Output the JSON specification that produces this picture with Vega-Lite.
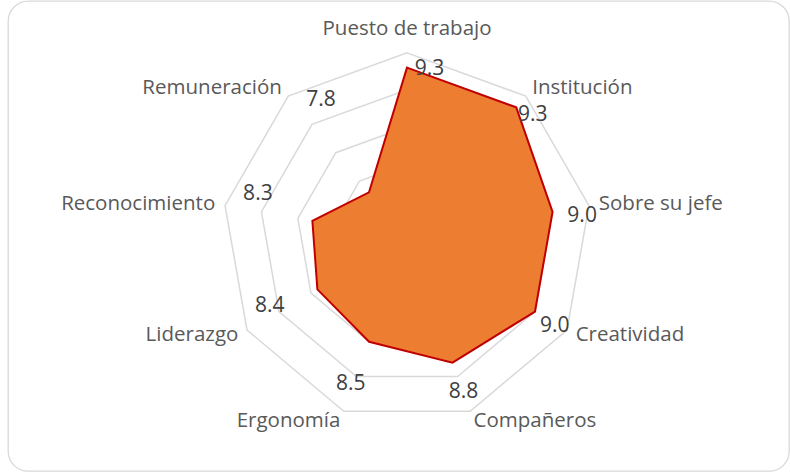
{
  "$schema": "https://vega.github.io/schema/vega-lite/v6.json",
  "width": 781,
  "height": 470,
  "autosize": {"type": "none"},
  "padding": {"left": 8, "top": 1, "right": 1, "bottom": 1},
  "background": "#FFFFFF",
  "config": {
    "view": {"stroke": "#D9D9D9", "strokeWidth": 1.3, "cornerRadius": 20},
    "font": "Open Sans"
  },
  "datasets": {
    "scores": [
      {"idx": 0, "categoria": "Puesto de trabajo", "valor": 9.3},
      {"idx": 1, "categoria": "Institución", "valor": 9.3},
      {"idx": 2, "categoria": "Sobre su jefe", "valor": 9.0},
      {"idx": 3, "categoria": "Creatividad", "valor": 9.0},
      {"idx": 4, "categoria": "Compañeros", "valor": 8.8},
      {"idx": 5, "categoria": "Ergonomía", "valor": 8.5},
      {"idx": 6, "categoria": "Liderazgo", "valor": 8.4},
      {"idx": 7, "categoria": "Reconocimiento", "valor": 8.3},
      {"idx": 8, "categoria": "Remuneración", "valor": 7.8}
    ],
    "rings": [
      {"nivel": 7.5, "idx": [0, 1, 2, 3, 4, 5, 6, 7, 8]},
      {"nivel": 8.0, "idx": [0, 1, 2, 3, 4, 5, 6, 7, 8]},
      {"nivel": 8.5, "idx": [0, 1, 2, 3, 4, 5, 6, 7, 8]},
      {"nivel": 9.0, "idx": [0, 1, 2, 3, 4, 5, 6, 7, 8]},
      {"nivel": 9.5, "idx": [0, 1, 2, 3, 4, 5, 6, 7, 8]}
    ]
  },
  "encoding": {
    "x": {"field": "x", "type": "quantitative", "scale": {"domain": [-5.399, 5.169], "nice": false, "zero": false}, "axis": null},
    "y": {"field": "y", "type": "quantitative", "scale": {"domain": [-3.158, 3.2016], "nice": false, "zero": false}, "axis": null}
  },
  "layer": [
    {
      "data": {"name": "rings"},
      "transform": [
        {"flatten": ["idx"]},
        {"calculate": "datum.idx * 2 * PI / 9", "as": "ang"},
        {"calculate": "(datum.nivel - 7) * sin(datum.ang)", "as": "x"},
        {"calculate": "(datum.nivel - 7) * cos(datum.ang)", "as": "y"}
      ],
      "mark": {"type": "line", "interpolate": "linear-closed", "stroke": "#D9D9D9", "strokeWidth": 1.5},
      "encoding": {
        "detail": {"field": "nivel", "type": "nominal"},
        "order": {"field": "idx", "type": "quantitative"}
      }
    },
    {
      "data": {"name": "scores"},
      "transform": [
        {"calculate": "datum.idx * 2 * PI / 9", "as": "ang"},
        {"calculate": "(datum.valor - 7) * sin(datum.ang)", "as": "x"},
        {"calculate": "(datum.valor - 7) * cos(datum.ang)", "as": "y"}
      ],
      "mark": {"type": "line", "interpolate": "linear-closed", "fill": "#ED7D31", "stroke": "#C00000", "strokeWidth": 2},
      "encoding": {
        "order": {"field": "idx", "type": "quantitative"}
      }
    },
    {
      "data": {"name": "scores"},
      "transform": [
        {"filter": "datum.idx == 0"},
        {"calculate": "0", "as": "x"},
        {"calculate": "2.5", "as": "y"}
      ],
      "mark": {"type": "text", "align": "center", "baseline": "alphabetic", "dy": -18, "fontSize": 20.5, "color": "#595959"},
      "encoding": {"text": {"field": "categoria", "type": "nominal"}}
    },
    {
      "data": {"name": "scores"},
      "transform": [
        {"filter": "datum.idx >= 1 && datum.idx <= 4"},
        {"calculate": "datum.idx * 2 * PI / 9", "as": "ang"},
        {"calculate": "2.635 * sin(datum.ang)", "as": "x"},
        {"calculate": "2.635 * cos(datum.ang)", "as": "y"}
      ],
      "mark": {"type": "text", "align": "left", "baseline": "middle", "fontSize": 20.5, "color": "#595959"},
      "encoding": {"text": {"field": "categoria", "type": "nominal"}}
    },
    {
      "data": {"name": "scores"},
      "transform": [
        {"filter": "datum.idx >= 5"},
        {"calculate": "datum.idx * 2 * PI / 9", "as": "ang"},
        {"calculate": "2.635 * sin(datum.ang)", "as": "x"},
        {"calculate": "2.635 * cos(datum.ang)", "as": "y"}
      ],
      "mark": {"type": "text", "align": "right", "baseline": "middle", "fontSize": 20.5, "color": "#595959"},
      "encoding": {"text": {"field": "categoria", "type": "nominal"}}
    },
    {
      "data": {"name": "scores"},
      "transform": [
        {"calculate": "datum.idx * 2 * PI / 9 + 0.07", "as": "ang"},
        {"calculate": "2.233 * sin(datum.ang)", "as": "x"},
        {"calculate": "2.233 * cos(datum.ang)", "as": "y"}
      ],
      "mark": {"type": "text", "align": "center", "baseline": "middle", "dx": 11, "dy": -4, "fontSize": 21, "color": "#404040"},
      "encoding": {"text": {"field": "valor", "type": "quantitative", "format": ".1f"}}
    }
  ]
}
